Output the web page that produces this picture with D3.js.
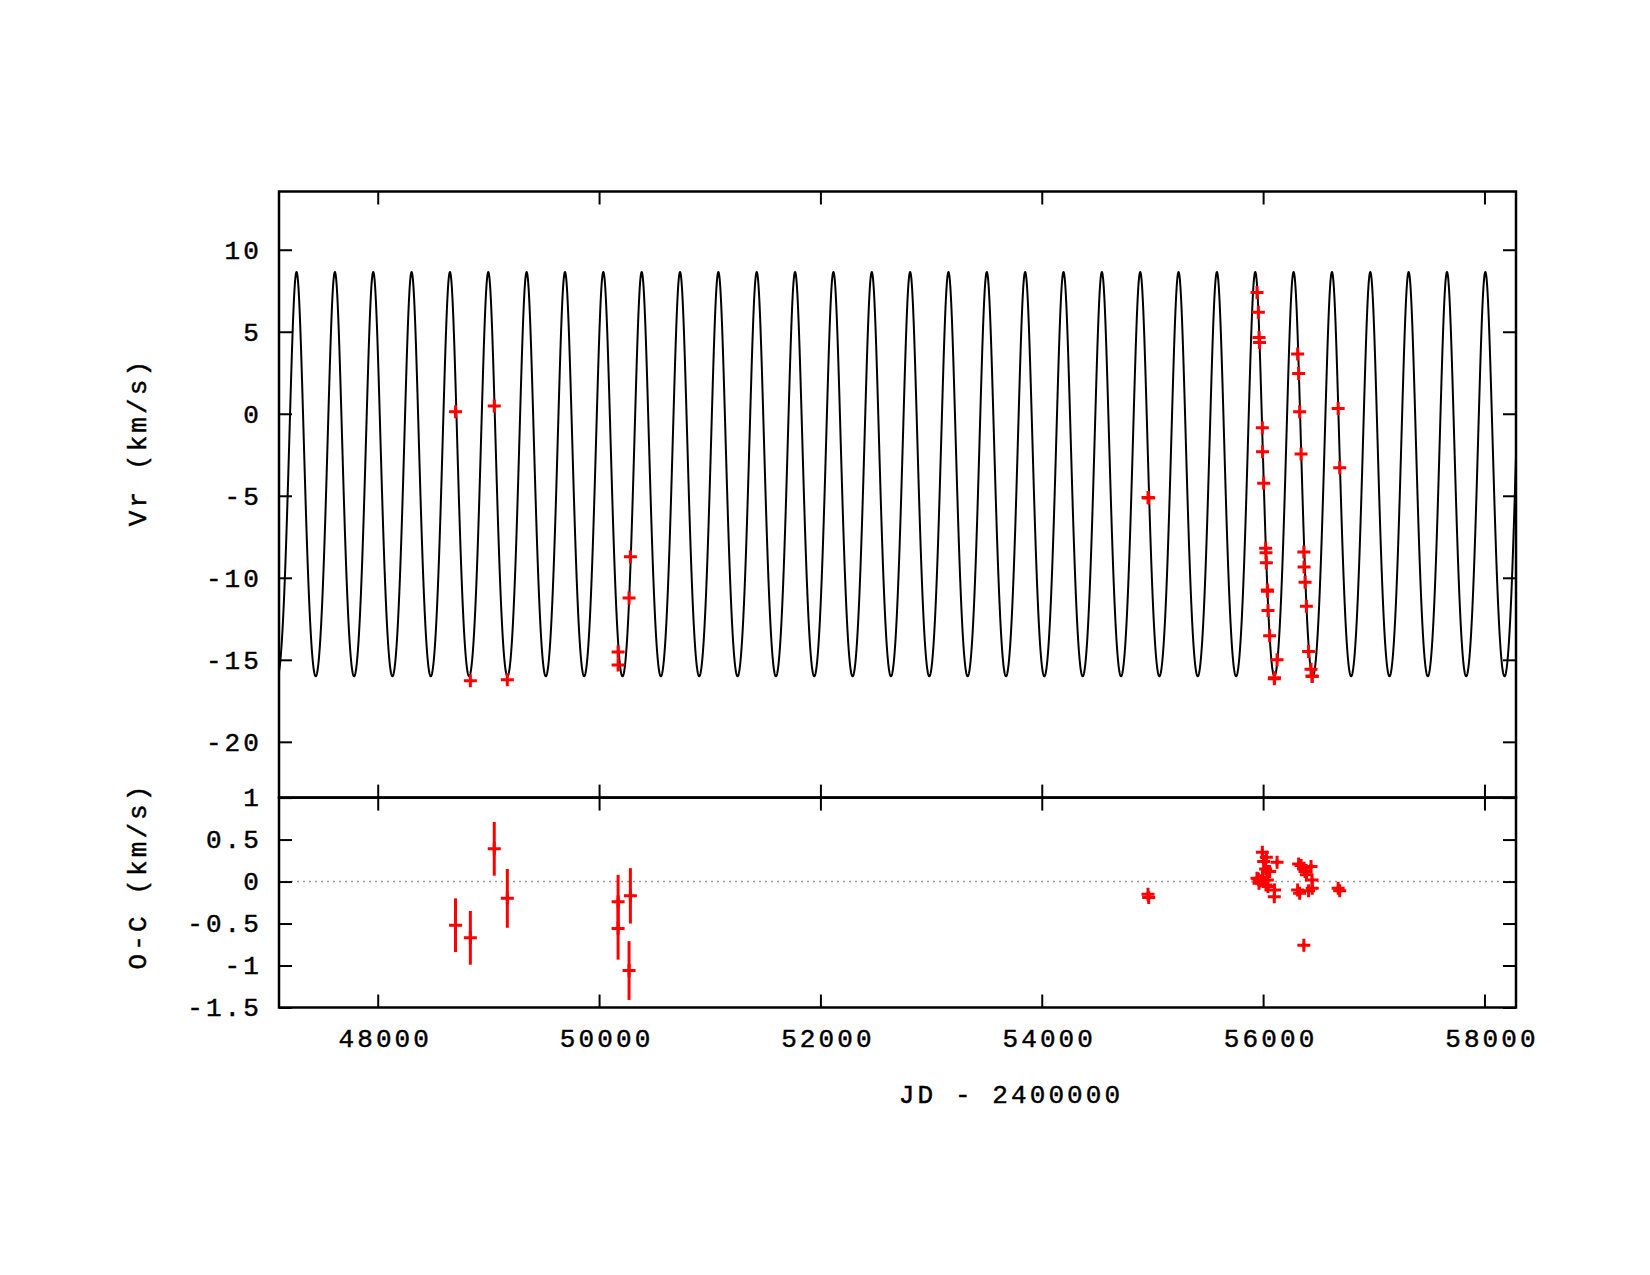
<!DOCTYPE html>
<html>
<head>
<meta charset="utf-8">
<script src="https://cdn.jsdelivr.net/npm/d3@7"></script>
<style>
body { margin: 0; background: #fff; }
text { font-family: "Liberation Mono", monospace; font-size: 26px; letter-spacing: 3.1px; fill: #000; stroke: #000; stroke-width: 0.45px; }
</style>
</head>
<body>
<div id="chart"></div>
<script>
// observed radial velocities and residuals (JD - 2400000)
var jd = [48703, 48837, 49053, 49171, 50172, 50172, 50271, 50283, 54960, 54966,
          55945, 55957, 55963, 55968, 55993, 55995, 56005, 56023, 56026, 56029, 56038, 56040, 56044, 56059, 56101, 56103, 56126,
          56312, 56321, 56330, 56343, 56368, 56370, 56379, 56391, 56411, 56433, 56442, 56444,
          56678, 56692];
var vr = [0.12, -16.28, 0.48, -16.22, -14.52, -15.31, -11.23, -8.71, -5.10, -5.14,
          7.39, 6.19, 4.65, 4.34, -0.86, -2.32, -4.23, -8.20, -8.47, -9.08, -10.74, -10.82, -12.00, -13.53, -16.16, -16.10, -15.00,
          3.65, 2.45, 0.12, -2.46, -8.43, -9.34, -10.27, -11.74, -14.50, -15.57, -15.98, -16.02,
          0.32, -3.29];
var oc = [-0.52, -0.67, 0.39, -0.20, -0.24, -0.56, -1.06, -0.17, -0.15, -0.19,
          0.04, 0.03, -0.02, 0.01, 0.35, 0.05, 0.24, 0.15, -0.04, 0.29, 0.02, 0.12, -0.06, 0.12, -0.18, -0.10, 0.23,
          -0.10, 0.21, -0.14, 0.19, -0.76, 0.16, 0.12, 0.08, -0.11, 0.18, 0.02, -0.08,
          -0.08, -0.11];
var ocErr = [0.32, 0.32, 0.32, 0.35, 0.32, 0.37, 0.35, 0.33, 0.03, 0.03,
          0.03, 0.03, 0.03, 0.03, 0.03, 0.03, 0.03, 0.03, 0.03, 0.03, 0.03, 0.03, 0.03, 0.03, 0.03, 0.03, 0.03,
          0.03, 0.03, 0.03, 0.03, 0.03, 0.03, 0.03, 0.03, 0.03, 0.03, 0.03, 0.03,
          0.03, 0.03];

var xTicks = [48000, 50000, 52000, 54000, 56000, 58000];
var vrTicks = [10, 5, 0, -5, -10, -15, -20];
var ocTicks = [1, 0.5, 0, -0.5, -1, -1.5];

// orbital solution
var period = 346.5, tPeri = 58008, K = 12.32, gamma = -5.04, ecc = 0.11, omega = 0;

var width = 1650, height = 1275;
var left = 279, right = 1516, top1 = 191.5, mid = 797.6, bottom = 1007.5;
var tick = 13;

var x = d3.scaleLinear().domain([47108, 58285]).range([left, right]);
var y1 = d3.scaleLinear().domain([-23.4, 13.55]).range([mid, top1]);
var y2 = d3.scaleLinear().domain([-1.5, 1]).range([bottom, mid]);

function model(t) {
	var M = 2 * Math.PI * (t - tPeri) / period;
	var E = M;
	for (var i = 0; i < 8; i++) E = E - (E - ecc * Math.sin(E) - M) / (1 - ecc * Math.cos(E));
	var nu = 2 * Math.atan2(Math.sqrt(1 + ecc) * Math.sin(E / 2), Math.sqrt(1 - ecc) * Math.cos(E / 2));
	return gamma + K * (Math.cos(nu + omega) + ecc * Math.cos(omega));
}

var svg = d3.select("#chart").append("svg")
	.attr("width", width)
	.attr("height", height)
	.style("background", "#fff");

svg.append("clipPath").attr("id", "clipTop")
	.append("rect").attr("x", left).attr("y", top1).attr("width", right - left).attr("height", mid - top1);

// model curve
var tGrid = d3.range(x.domain()[0], x.domain()[1] + 1, 1.5);
svg.append("path")
	.datum(tGrid)
	.attr("clip-path", "url(#clipTop)")
	.attr("fill", "none")
	.attr("stroke", "#000")
	.attr("stroke-width", 2)
	.attr("d", d3.line().x(function(t){ return x(t); }).y(function(t){ return y1(model(t)); }));

// zero line in residual panel
svg.append("line")
	.attr("x1", left).attr("x2", right)
	.attr("y1", y2(0)).attr("y2", y2(0))
	.attr("stroke", "#999")
	.attr("stroke-width", 1.5)
	.attr("stroke-dasharray", "2,4");

var plus = "M-6.5,0H6.5M0,-6.5V6.5";
var idx = d3.range(jd.length);

svg.append("g").selectAll("path")
	.data(idx)
	.enter()
	.append("path")
	.attr("transform", function(i){ return "translate(" + x(jd[i]) + "," + y1(vr[i]) + ")"; })
	.attr("d", plus)
	.attr("stroke", "#f00")
	.attr("stroke-width", 3)
	.attr("fill", "none");

var res = svg.append("g");
res.selectAll("line")
	.data(idx)
	.enter()
	.append("line")
	.attr("x1", function(i){ return x(jd[i]); })
	.attr("x2", function(i){ return x(jd[i]); })
	.attr("y1", function(i){ return y2(oc[i] - ocErr[i]); })
	.attr("y2", function(i){ return y2(oc[i] + ocErr[i]); })
	.attr("stroke", "#f00")
	.attr("stroke-width", 3);
res.selectAll("path")
	.data(idx)
	.enter()
	.append("path")
	.attr("transform", function(i){ return "translate(" + x(jd[i]) + "," + y2(oc[i]) + ")"; })
	.attr("d", plus)
	.attr("stroke", "#f00")
	.attr("stroke-width", 3)
	.attr("fill", "none");

// axes: ticks point inward, mirrored on all sides
function styleAxis(g) {
	g.select(".domain").remove();
	g.selectAll(".tick line").attr("stroke", "#000").attr("stroke-width", 2);
	g.selectAll("text").attr("font-family", null).attr("font-size", null).attr("fill", "#000");
}
var fmt = function(d){ return String(d); };

svg.append("g").attr("transform", "translate(" + left + ",0)")
	.call(d3.axisLeft(y1).tickValues(vrTicks).tickFormat(fmt).tickSizeInner(-tick).tickSizeOuter(0).tickPadding(17))
	.call(styleAxis);
svg.append("g").attr("transform", "translate(" + right + ",0)")
	.call(d3.axisRight(y1).tickValues(vrTicks).tickFormat("").tickSizeInner(-tick).tickSizeOuter(0))
	.call(styleAxis);
svg.append("g").attr("transform", "translate(" + left + ",0)")
	.call(d3.axisLeft(y2).tickValues(ocTicks).tickFormat(fmt).tickSizeInner(-tick).tickSizeOuter(0).tickPadding(17))
	.call(styleAxis);
svg.append("g").attr("transform", "translate(" + right + ",0)")
	.call(d3.axisRight(y2).tickValues(ocTicks).tickFormat("").tickSizeInner(-tick).tickSizeOuter(0))
	.call(styleAxis);

svg.append("g").attr("transform", "translate(0," + top1 + ")")
	.call(d3.axisTop(x).tickValues(xTicks).tickFormat("").tickSizeInner(-tick).tickSizeOuter(0))
	.call(styleAxis);
svg.append("g").attr("transform", "translate(0," + mid + ")")
	.call(d3.axisBottom(x).tickValues(xTicks).tickFormat("").tickSizeInner(-tick).tickSizeOuter(0))
	.call(styleAxis);
svg.append("g").attr("transform", "translate(0," + mid + ")")
	.call(d3.axisTop(x).tickValues(xTicks).tickFormat("").tickSizeInner(-tick).tickSizeOuter(0))
	.call(styleAxis);
svg.append("g").attr("transform", "translate(0," + bottom + ")")
	.call(d3.axisBottom(x).tickValues(xTicks).tickFormat(fmt).tickSizeInner(-tick).tickSizeOuter(0).tickPadding(21))
	.call(styleAxis)
	.selectAll("text").attr("dx", "7px");

// frames
svg.append("rect")
	.attr("x", left).attr("y", top1).attr("width", right - left).attr("height", mid - top1)
	.attr("fill", "none").attr("stroke", "#000").attr("stroke-width", 2.5);
svg.append("rect")
	.attr("x", left).attr("y", mid).attr("width", right - left).attr("height", bottom - mid)
	.attr("fill", "none").attr("stroke", "#000").attr("stroke-width", 2.5);

// titles
svg.append("text")
	.attr("x", 1011).attr("y", 1096)
	.attr("text-anchor", "middle").attr("dominant-baseline", "central")
	.text("JD - 2400000");
svg.append("text")
	.attr("transform", "translate(139,442) rotate(-90)")
	.attr("text-anchor", "middle").attr("dominant-baseline", "central")
	.text("Vr (km/s)");
svg.append("text")
	.attr("transform", "translate(139,876) rotate(-90)")
	.attr("text-anchor", "middle").attr("dominant-baseline", "central")
	.text("O-C (km/s)");
</script>
</body>
</html>
